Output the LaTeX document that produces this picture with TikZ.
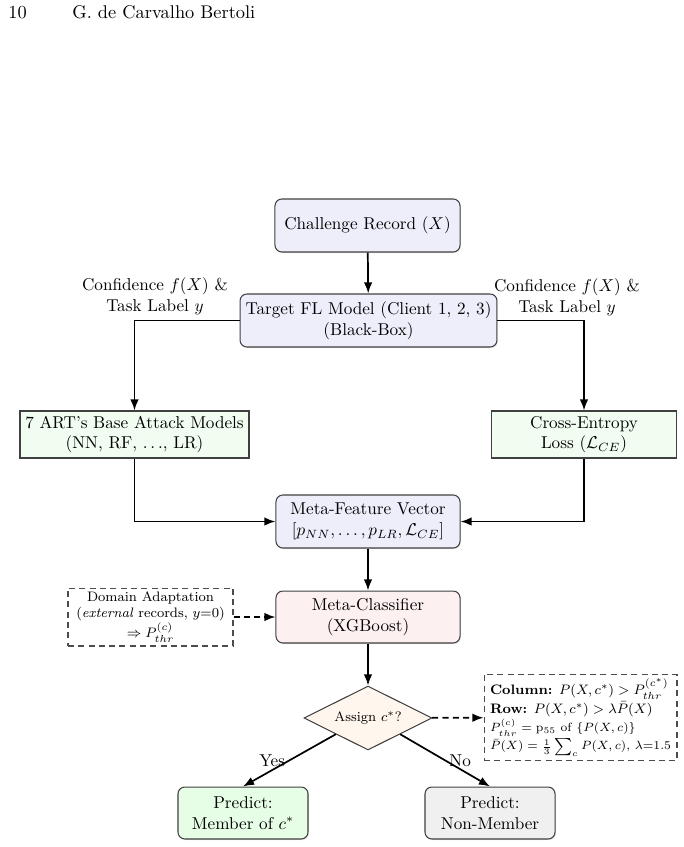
\documentclass[tikz,border=0pt]{standalone}
\usetikzlibrary{shapes.geometric,arrows.meta,shadows}
\definecolor{lav}{HTML}{EEEEFB}
\definecolor{mint}{HTML}{F0FDF0}
\definecolor{rose}{HTML}{FDF0F0}
\definecolor{cream}{HTML}{FFF7EE}
\definecolor{mintb}{HTML}{E6FDE6}
\definecolor{lgray}{HTML}{F0F0F0}
\begin{document}
\begin{tikzpicture}[x=0.583pt,y=-0.583pt,
  shad/.style={drop shadow={shadow xshift=0.6pt,shadow yshift=-0.6pt,opacity=0.2}},
  box/.style={draw=black!75, line width=0.6pt, rounded corners=4pt, align=center, inner sep=2pt, shad},
  sqbox/.style={draw=black!75, line width=0.6pt, align=center, inner sep=2pt, shad},
  dbox/.style={draw=black!70, line width=0.6pt, dash pattern=on 3.5pt off 2.5pt, align=center},
  arr/.style={-{Latex[length=6.5pt,width=5pt]}, line width=1pt},
  darr/.style={arr, dash pattern=on 3.5pt off 2.5pt},
  hdr/.style={anchor=base west, inner sep=0pt, font=\fontsize{10.7}{12}\selectfont}]
\useasboundingbox (0,0) rectangle (683,847);
% header
\node[hdr] (pg) at (8,18) {10};
\node[hdr] (au) at (72,18) {G. de Carvalho Bertoli};
% nodes
\node[box, fill=lav, minimum width=107.9pt, minimum height=30.9pt] (cr) at (367.5,225.5) {Challenge Record ($X$)};
\node[box, fill=lav, minimum width=149.8pt, minimum height=30.9pt] (tm) at (368.5,320.5) {Target FL Model (Client 1, 2, 3)\\(Black-Box)};
\node[sqbox, fill=mint, minimum width=133.5pt, minimum height=27.4pt] (base) at (134.5,434.5) {7 ART's Base Attack Models\\(NN, RF, $\ldots$, LR)};
\node[sqbox, fill=mint, minimum width=107.3pt, minimum height=27.4pt] (ce) at (584,434.5) {Cross-Entropy\\Loss ($\mathcal{L}_{CE}$)};
\node[box, fill=lav, minimum width=107.3pt, minimum height=30.9pt] (mf) at (368,521.5) {Meta-Feature Vector\\$[p_{NN},\ldots,p_{LR},\mathcal{L}_{CE}]$};
\node[box, fill=rose, minimum width=107.3pt, minimum height=30.3pt] (mc) at (368,617) {Meta-Classifier\\(XGBoost)};
\node[dbox, font=\footnotesize, minimum width=96.2pt, minimum height=33.8pt, inner sep=1pt] (da) at (150.5,617) {Domain Adaptation\\(\emph{external} records, $y{=}0$)\\$\Rightarrow P^{(c)}_{thr}$};
\node[diamond, draw=black!75, line width=0.6pt, fill=cream, aspect=2, inner sep=1pt, minimum width=74.6pt, minimum height=37.3pt, font=\footnotesize] (dec) at (368,718) {Assign $c^*$?};
\node[dbox, align=left, minimum width=112.5pt, minimum height=47.2pt, inner sep=2.5pt] (cond) at (580.5,717.5) {\footnotesize\textbf{Column:} $P(X,c^*) > P^{(c^*)}_{thr}$\\[-1pt]
\footnotesize\textbf{Row:} $P(X,c^*) > \lambda\bar{P}(X)$\\[-1pt]
\scriptsize $P^{(c)}_{thr} = \mathrm{p}_{55}$ of $\{P(X,c)\}$\\[-1.5pt]
\scriptsize $\bar{P}(X) = \frac{1}{3}\sum_c P(X,c)$, $\lambda$=1.5};
\node[box, fill=mintb, minimum width=75.8pt, minimum height=30.3pt] (yes) at (243,813) {Predict:\\Member of $c^*$};
\node[box, fill=lgray, minimum width=75.8pt, minimum height=30.3pt] (no) at (490,813) {Predict:\\Non-Member};
% labels
\node[align=center] (lc) at (155,296) {Confidence $f(X)$ \&\\Task Label $y$};
\node[align=center] (rc) at (567,297) {Confidence $f(X)$ \&\\Task Label $y$};
% connectors
\draw[arr] (cr) -- (tm);
\draw[arr] (tm.west) -| (base.north);
\draw[arr] (tm.east) -| (ce.north);
\draw[arr] (base.south) |- (mf.west);
\draw[arr] (ce.south) |- (mf.east);
\draw[arr] (mf) -- (mc);
\draw[darr] (da) -- (mc);
\draw[arr] (mc) -- (dec);
\draw[darr] (dec) -- (cond);
\draw[arr] (dec.south west) -- node[midway, left, inner sep=2pt] (ly) {Yes} (yes.north);
\draw[arr] (dec.south east) -- node[midway, right, inner sep=2pt] (ln) {No} (no.north);
\end{tikzpicture}
\end{document}
